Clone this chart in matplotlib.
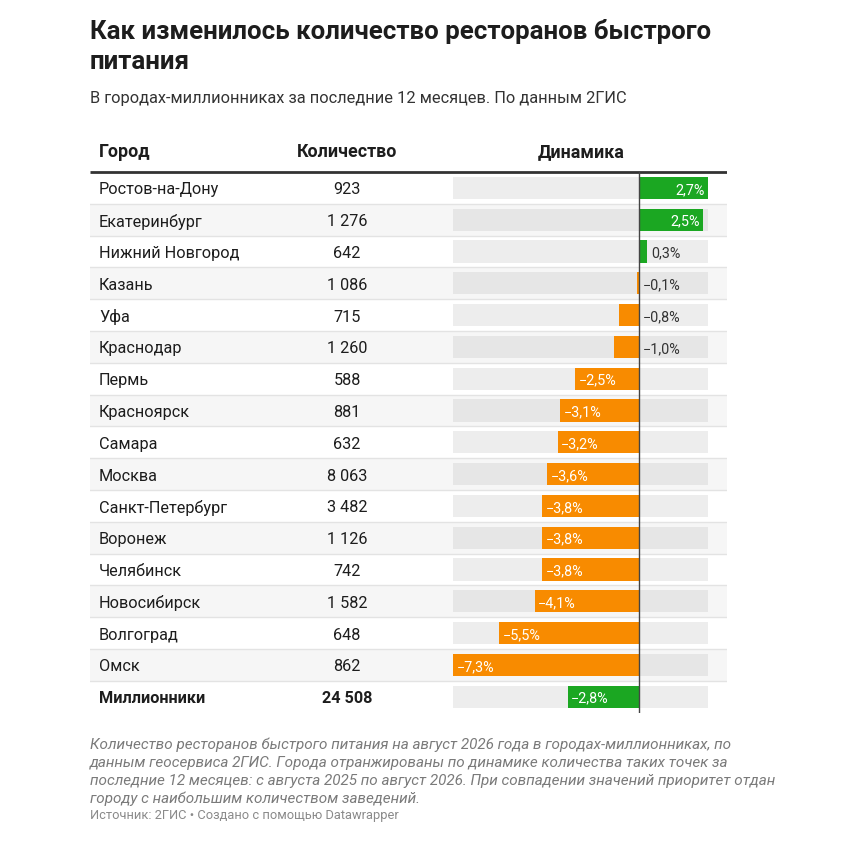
import matplotlib.pyplot as plt
from matplotlib.patches import Rectangle

plt.rcParams['font.family'] = ['Roboto', 'DejaVu Sans']

# Данные
cities = ['Ростов-на-Дону', 'Екатеринбург', 'Нижний Новгород', 'Казань', 'Уфа',
          'Краснодар', 'Пермь', 'Красноярск', 'Самара', 'Москва', 'Санкт-Петербург',
          'Воронеж', 'Челябинск', 'Новосибирск', 'Волгоград', 'Омск', 'Миллионники']
counts = [923, 1276, 642, 1086, 715, 1260, 588, 881, 632, 8063, 3482,
          1126, 742, 1582, 648, 862, 24508]
change = [2.7, 2.5, 0.3, -0.1, -0.8, -1.0, -2.5, -3.1, -3.2, -3.6, -3.8,
          -3.8, -3.8, -4.1, -5.5, -7.3, -2.8]
headers = ['Город', 'Количество', 'Динамика']

W = H = 848
fig = plt.figure(figsize=(W / 100, H / 100), dpi=100)

def fy(px):
    return 1 - px / H

GREEN = '#1ba722'
ORANGE = '#f88b00'

# Заголовок
fig.text(90 / W, fy(32), 'Как изменилось количество ресторанов быстрого', fontsize=18.6,
         fontweight='bold', color='#1d1d1d', va='center')
fig.text(90 / W, fy(62), 'питания', fontsize=18.6, fontweight='bold', color='#1d1d1d', va='center')
fig.text(90 / W, fy(98), 'В городах-миллионниках за последние 12 месяцев. По данным 2ГИС',
         fontsize=11.75, color='#333333', va='center')

# Таблица
n = len(cities)
row_h = 31.8
top = 172 - row_h      # верх строки заголовка
bottom = 172 + row_h * n
ax = fig.add_axes([90 / W, fy(bottom), (727 - 90) / W, (bottom - top) / H])
ax.set_xlim(90, 727)
ax.set_ylim(n - 0.5, -1.5)
ax.axis('off')

for i in range(n):
    if i % 2 == 1:
        ax.add_patch(Rectangle((90, i - 0.5), 637, 1, color='#f6f6f6', lw=0, zorder=0))
    if i > 0:
        ax.plot([90, 727], [i - 0.5, i - 0.5], color='#e3e3e3', lw=1, zorder=1)
ax.plot([90, 727], [-0.5, -0.5], color='#333333', lw=2, zorder=2, solid_capstyle='butt')

for x, h, ha in zip([99, 347, 581], headers, ['left', 'center', 'center']):
    ax.text(x, -1.12, h, fontsize=12.9, fontweight='bold', color='#1d1d1d', va='center', ha=ha)

dy = 0.06
for i, (c, k) in enumerate(zip(cities, counts)):
    bold = 'bold' if i == n - 1 else 'normal'
    ax.text(99, i + dy, c, fontsize=11.7, color='#1d1d1d', va='center', fontweight=bold)
    ax.text(347, i + dy, f'{k:,}'.replace(',', ' '), fontsize=11.7, color='#1d1d1d',
            va='center', ha='center', fontweight=bold)

# Столбцы динамики
bx = fig.add_axes([453 / W, fy(bottom), (708 - 453) / W, (bottom - top) / H])
bx.set_xlim(-7.3, 2.7)
bx.set_ylim(n - 0.5, -1.5)
bx.axis('off')
bx.patch.set_alpha(0)

ys = list(range(n))
bg = ['#e6e6e6' if i % 2 == 1 else '#ededed' for i in ys]
bx.barh(ys, [10] * n, left=-7.3, height=0.7, color=bg, zorder=1)
colors = [GREEN if (v > 0 or i == n - 1) else ORANGE for i, v in enumerate(change)]
bx.barh(ys, change, height=0.7, color=colors, zorder=2)
bx.plot([0, 0], [-0.5, n - 0.5 + 0.05], color='#444444', lw=1, zorder=3)

for i, v in enumerate(change):
    label = f'{abs(v):.1f}'.replace('.', ',') + '%'
    if v < 0:
        label = '−' + label
    if abs(v) >= 2:
        if v > 0:
            bx.annotate(label, (v, i + dy), xytext=(-2.5, 0), textcoords='offset points',
                        ha='right', va='center', color='white', fontsize=10.4, zorder=4)
        else:
            bx.annotate(label, (v, i + dy), xytext=(2.5, 0), textcoords='offset points',
                        ha='left', va='center', color='white', fontsize=10.4, zorder=4)
    else:
        x0 = max(v, 0)
        bx.annotate(label, (x0, i + dy), xytext=(3, 0), textcoords='offset points',
                    ha='left', va='center', color='#333333', fontsize=10.4, zorder=4)

# Примечания
notes = ['Количество ресторанов быстрого питания на август 2026 года в городах-миллионниках, по',
         'данным геосервиса 2ГИС. Города отранжированы по динамике количества таких точек за',
         'последние 12 месяцев: с августа 2025 по август 2026. При совпадении значений приоритет отдан',
         'городу с наибольшим количеством заведений.']
for j, line in enumerate(notes):
    fig.text(90 / W, fy(745 + 18 * j), line, fontsize=11, style='italic', color='#7a7a7a', va='center')
fig.text(90 / W, fy(815), 'Источник: 2ГИС • Создано с помощью Datawrapper', fontsize=9.3,
         color='#8a8a8a', va='center')

fig.savefig('out.png', dpi=100, facecolor='white')
